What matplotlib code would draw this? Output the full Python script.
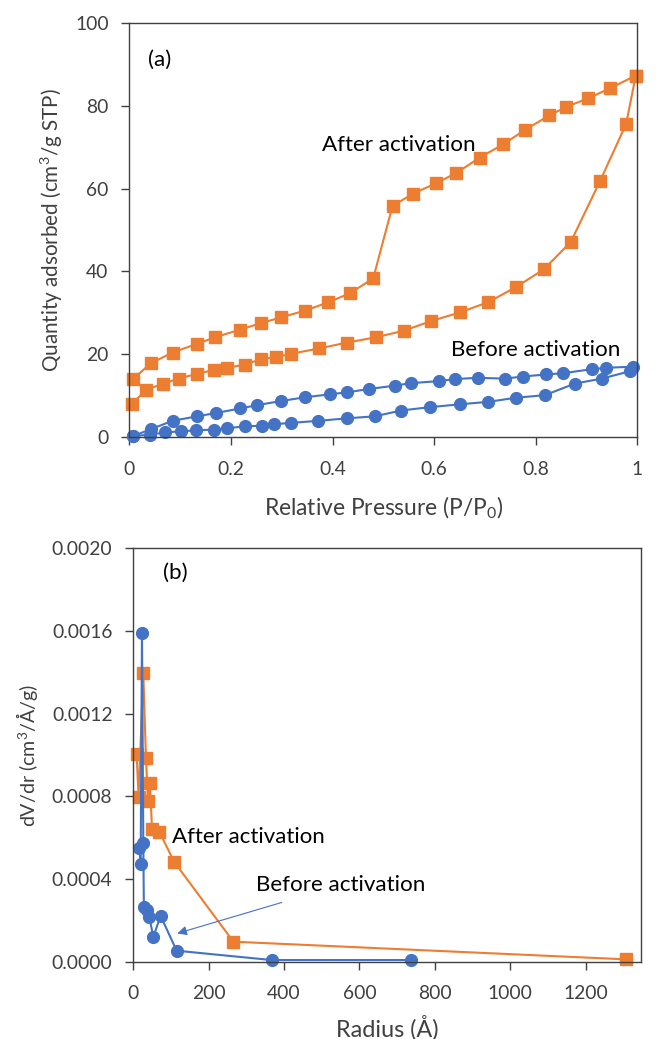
import matplotlib
matplotlib.use("Agg")
from matplotlib import pyplot as plt

plt.rcParams['font.family'] = ['Lato', 'DejaVu Sans']
plt.rcParams['mathtext.fontset'] = 'custom'
plt.rcParams['mathtext.rm'] = 'Lato'
plt.rcParams['mathtext.it'] = 'Lato:italic'

ORANGE = '#ED7D31'
BLUE = '#4472C4'
GREY = '#404040'

# (a) isotherms - after activation (orange), adsorption then desorption branch
after_ads_p = [0.005, 0.033, 0.067, 0.097, 0.134, 0.167, 0.193, 0.227, 0.260, 0.289,
               0.318, 0.374, 0.428, 0.486, 0.541, 0.594, 0.651, 0.707, 0.761, 0.816,
               0.869, 0.927, 0.978, 0.997]
after_ads_q = [8.0, 11.4, 12.9, 14.1, 15.3, 16.2, 16.7, 17.5, 18.8, 19.3,
               20.1, 21.4, 22.8, 24.1, 25.7, 28.0, 30.1, 32.6, 36.2, 40.5,
               47.1, 61.9, 75.6, 87.3]
after_des_p = [0.997, 0.946, 0.903, 0.860, 0.827, 0.778, 0.736, 0.690, 0.644, 0.604,
               0.559, 0.518, 0.480, 0.434, 0.391, 0.345, 0.299, 0.259, 0.217, 0.169,
               0.133, 0.085, 0.042, 0.007]
after_des_q = [87.3, 84.2, 81.8, 79.7, 77.7, 74.1, 70.7, 67.5, 63.8, 61.3,
               58.8, 55.8, 38.3, 34.7, 32.5, 30.5, 28.9, 27.5, 25.9, 24.1,
               22.5, 20.4, 17.8, 14.0]

# before activation (blue)
before_ads_p = [0.007, 0.041, 0.071, 0.102, 0.131, 0.167, 0.193, 0.227, 0.261, 0.285,
                0.318, 0.371, 0.428, 0.483, 0.535, 0.591, 0.651, 0.707, 0.762, 0.818,
                0.877, 0.930, 0.986]
before_ads_q = [0.2, 0.6, 1.1, 1.4, 1.6, 1.8, 2.1, 2.6, 2.7, 3.1,
                3.4, 3.9, 4.5, 5.0, 6.4, 7.2, 7.9, 8.5, 9.5, 10.1,
                12.9, 14.1, 15.9]
before_des_p = [0.992, 0.938, 0.911, 0.854, 0.820, 0.774, 0.739, 0.686, 0.642, 0.609,
                0.554, 0.522, 0.472, 0.429, 0.394, 0.346, 0.299, 0.252, 0.218, 0.171,
                0.133, 0.085, 0.042, 0.007]
before_des_q = [17.0, 16.7, 16.4, 15.4, 15.1, 14.6, 14.1, 14.3, 14.0, 13.5,
                13.0, 12.4, 11.6, 10.8, 10.3, 9.6, 8.7, 7.7, 6.9, 5.8,
                5.0, 3.9, 1.9, 0.2]

# (b) pore size distribution
after_r = [8.8, 14, 26.5, 33.6, 39, 44, 49.6, 69, 108, 265.5, 1308]
after_dv = [0.001005, 0.000798, 0.001395, 0.000984, 0.000779, 0.000866, 0.000644,
            0.000629, 0.000484, 0.0000968, 0.0000113]
before_r = [16, 19.5, 23, 26.5, 28, 37, 42.5, 53, 72.6, 115, 367, 736]
before_dv = [0.000548, 0.000471, 0.001592, 0.000576, 0.000266, 0.00025, 0.000215,
             0.000121, 0.000221, 0.0000532, 0.000008, 0.000008]

fig = plt.figure(figsize=(6.57, 10.39), dpi=100)
ax1 = fig.add_axes([0.197, 0.5794, 0.773, 0.3985])
ax2 = fig.add_axes([0.2029, 0.0744, 0.7727, 0.398])
rend = fig.canvas.get_renderer()

def fit(t, px, vertical=False):
    # scale a text so it spans about px pixels, like in the reference
    bb = t.get_window_extent(rend)
    size = bb.height if vertical else bb.width
    t.set_fontsize(t.get_fontsize() * px / size)

# tick label size from the width of "0.0020" (about 60 px)
probe = fig.text(0, 0, '0.0020', fontsize=13)
fit(probe, 60)
tick_fs = probe.get_fontsize()
probe.remove()

sq = dict(color=ORANGE, marker='s', markersize=8, lw=1.5, clip_on=False)
ci = dict(color=BLUE, marker='o', markersize=8.5, lw=1.5, clip_on=False)

ax1.plot(after_ads_p, after_ads_q, **sq)
ax1.plot(after_des_p, after_des_q, **sq)
ax1.plot(before_ads_p, before_ads_q, **ci)
ax1.plot(before_des_p, before_des_q, **ci)
ax1.set_xlim(0, 1)
ax1.set_ylim(0, 100)
ax1.set_xticks([0, 0.2, 0.4, 0.6, 0.8, 1])
ax1.set_xticklabels(['0', '0.2', '0.4', '0.6', '0.8', '1'])
ax1.set_yticks([0, 20, 40, 60, 80, 100])
xl1 = ax1.set_xlabel('Relative Pressure (P/P$_0$)', fontsize=13, color=GREY, va='center')
yl1 = ax1.set_ylabel('Quantity adsorbed (cm$^3$/g STP)', fontsize=13, color=GREY, va='center')
ax1.xaxis.set_label_coords(0.5, -0.1715)
ax1.yaxis.set_label_coords(-0.152, 0.5)
ta = ax1.text(0.037, 91, '(a)', fontsize=13, va='center')
t1 = ax1.text(0.379, 70.5, 'After activation', fontsize=13, va='center')
t2 = ax1.text(0.633, 21.1, 'Before activation', fontsize=13, va='center')

ax2.plot(after_r, after_dv, **sq)
ax2.plot(before_r, before_dv, **ci)
ax2.set_xlim(0, 1347)
ax2.set_ylim(0, 0.002)
ax2.set_xticks([0, 200, 400, 600, 800, 1000, 1200])
ax2.set_yticks([0, 0.0004, 0.0008, 0.0012, 0.0016, 0.002])
ax2.set_yticklabels(['0.0000', '0.0004', '0.0008', '0.0012', '0.0016', '0.0020'])
xl2 = ax2.set_xlabel('Radius (Å)', fontsize=13, color=GREY, va='center')
yl2 = ax2.set_ylabel('dV/dr (cm$^3$/Å/g)', fontsize=13, color=GREY, va='center')
ax2.xaxis.set_label_coords(0.5, -0.160)
ax2.yaxis.set_label_coords(-0.209, 0.5)
tb = ax2.text(79.6, 0.00188, '(b)', fontsize=13, va='center')
t3 = ax2.text(101.8, 0.000605, 'After activation', fontsize=13, va='center')

for ax in (ax1, ax2):
    for s in ax.spines.values():
        s.set_color(GREY)
        s.set_linewidth(1.0)
    ax.tick_params(direction='out', length=6, width=1, color=GREY,
                   labelsize=tick_fs, labelcolor=GREY)
    ax.tick_params(axis='x', pad=11)
    ax.tick_params(axis='y', pad=9)

# widths measured on the reference, in pixels
fit(xl1, 239)
fit(yl1, 283, vertical=True)
fit(xl2, 102)
fit(yl2, 143, vertical=True)
fit(t1, 153)
fit(t2, 169)
fit(t3, 152)
ta.set_fontsize(t1.get_fontsize())
tb.set_fontsize(t1.get_fontsize())

ax2.annotate('Before activation', xy=(116.8, 0.000137), xytext=(325.7, 0.000371),
             fontsize=t2.get_fontsize(), va='center',
             arrowprops=dict(arrowstyle='-|>', color=BLUE, lw=0.8,
                             mutation_scale=14, shrinkA=12, shrinkB=0))

fig.savefig('out.png', dpi=100)
